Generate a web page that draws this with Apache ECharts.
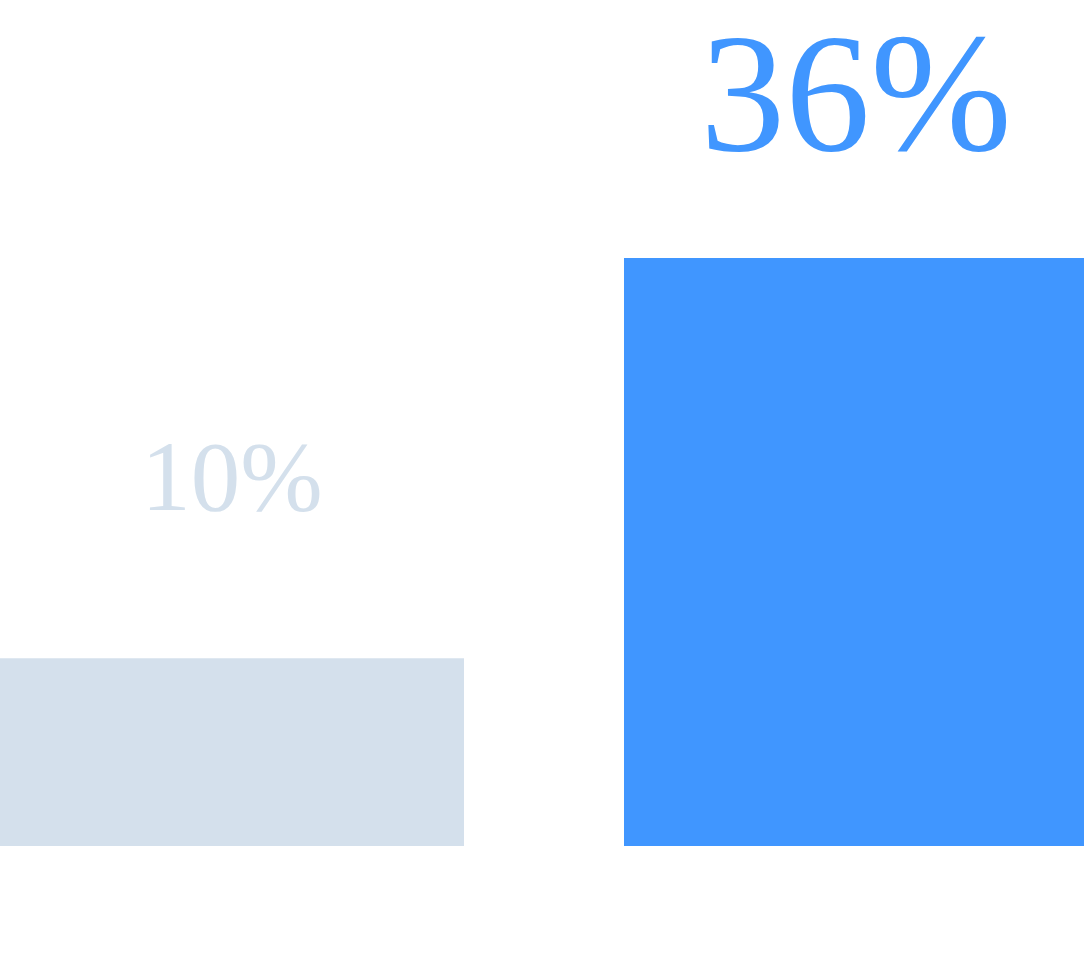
<!DOCTYPE html>
<html>
<head>
<meta charset="utf-8">
<script src="https://cdn.jsdelivr.net/npm/echarts@6/dist/echarts.min.js"></script>
<style>html,body{margin:0;padding:0;background:#fff;}#c{width:1084px;height:975px;}</style>
</head>
<body>
<div id="c"></div>
<script>
const categories = ['A', 'B'];
const values = [10, 36];
const labels = ['10%', '36%'];
const colors = ['#d4e0ec', '#4096ff'];
const Y_MIN = -2.2;
const Y_MAX = 36;

const labelStyle = [
  { fontSize: 99, distance: 125 },
  { fontSize: 170, distance: 68 }
];

const chart = echarts.init(document.getElementById('c'));
chart.setOption({
  animation: false,
  grid: { left: -80, right: -84, top: 258, bottom: 129, outerBoundsMode: 'none', containLabel: false },
  xAxis: { type: 'category', data: categories, show: false },
  yAxis: { type: 'value', min: Y_MIN, max: Y_MAX, show: false },
  series: [{
    type: 'custom',
    data: values.map((v, i) => [i, v]),
    renderItem: function (params, api) {
      const i = api.value(0);
      const v = api.value(1);
      const top = api.coord([i, v]);
      const base = api.coord([i, Y_MIN]);
      const w = api.size([1, 0])[0] * 0.7436;
      const ls = labelStyle[i];
      return {
        type: 'group',
        children: [
          { type: 'rect', shape: { x: top[0] - w / 2, y: top[1], width: w, height: base[1] - top[1] },
            style: { fill: colors[i] } },
          { type: 'text', x: top[0], y: top[1] - ls.distance,
            style: { text: labels[i], fill: colors[i], fontSize: ls.fontSize, fontFamily: 'Liberation Serif',
                     align: 'center', verticalAlign: 'bottom' } }
        ]
      };
    }
  }]
});
</script>
</body>
</html>
